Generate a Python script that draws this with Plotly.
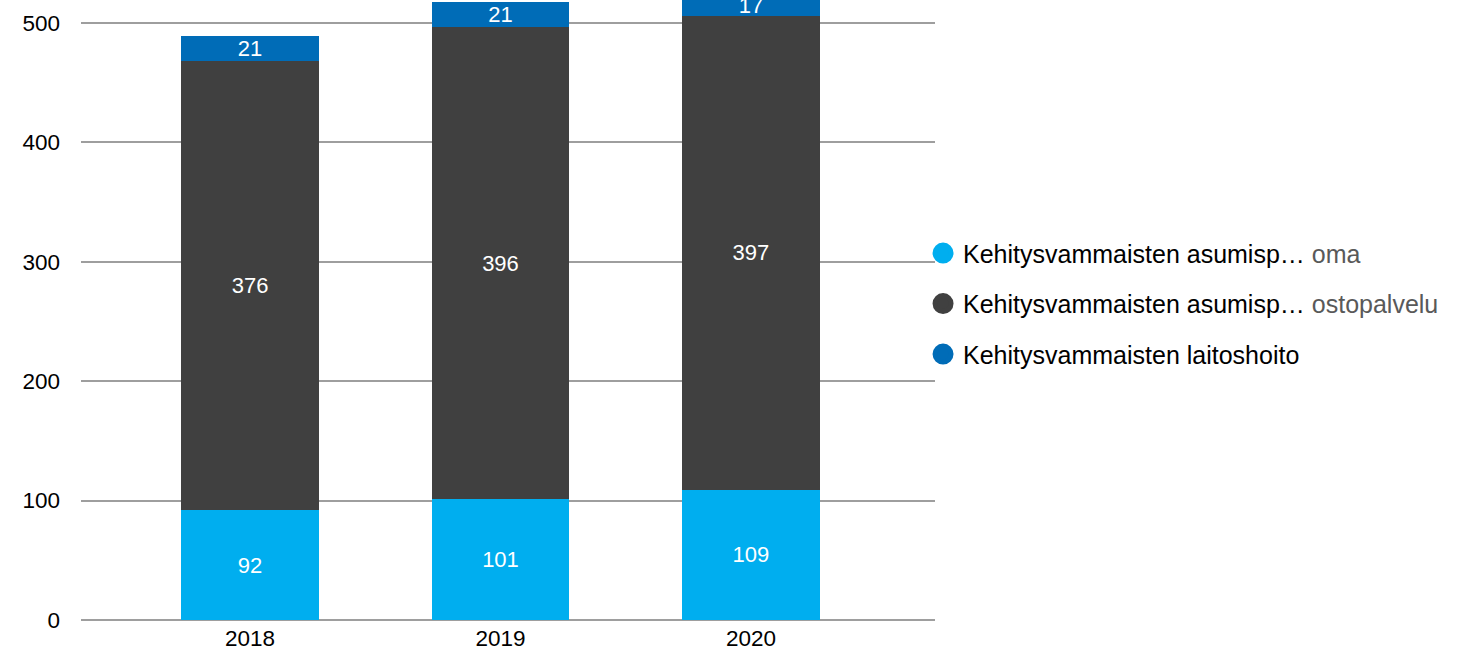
import plotly.graph_objects as go

years = ["2018", "2019", "2020"]
oma = [92, 101, 109]
ostopalvelu = [376, 396, 397]
laitoshoito = [21, 21, 17]

series_names = [
    "Kehitysvammaisten asumisp… <span style='color:#595959'>oma</span>",
    "Kehitysvammaisten asumisp… <span style='color:#595959'>ostopalvelu</span>",
    "Kehitysvammaisten laitoshoito",
]
series_values = [oma, ostopalvelu, laitoshoito]
series_colors = ["#00AEEF", "#404040", "#006CB7"]

FONT = "Liberation Sans, Arial, sans-serif"

fig = go.Figure()

for name, vals, color in zip(series_names, series_values, series_colors):
    fig.add_trace(go.Bar(
        x=years, y=vals, name=name, marker_color=color, marker_line_width=0,
        text=[str(v) for v in vals], textposition="inside", textangle=0,
        insidetextanchor="middle", constraintext="none",
        textfont=dict(color="white", size=22, family=FONT),
        width=0.55, showlegend=False, hoverinfo="x+y+name",
    ))

# circular legend markers (outline in the fill colour enlarges the legend dot)
for i, (name, color) in enumerate(zip(series_names, series_colors)):
    fig.add_trace(go.Scatter(
        x=[None], y=[None], mode="markers", name=name,
        marker=dict(color=color, size=22, symbol="circle",
                    line=dict(color=color, width=5)),
        legendgroup=f"g{i}", showlegend=True,
    ))

fig.update_layout(
    width=1470, height=658,
    barmode="stack",
    bargap=0.45,
    paper_bgcolor="white", plot_bgcolor="white",
    margin=dict(l=81, r=535, t=0, b=38),
    font=dict(family=FONT, size=22, color="#000000"),
    legend=dict(
        x=0.986, y=0.51, xanchor="left", yanchor="middle",
        traceorder="grouped", tracegroupgap=15,
        font=dict(size=25, color="#000000", family=FONT),
        itemwidth=30, bgcolor="rgba(0,0,0,0)",
    ),
    showlegend=True,
)

fig.update_xaxes(
    range=[-0.675, 2.735], showgrid=False, showline=False, ticks="",
    tickfont=dict(size=22.5, color="#000000"), ticklabelstandoff=2,
)
fig.update_yaxes(
    range=[0, 519.3], tickvals=[0, 100, 200, 300, 400, 500],
    showgrid=True, gridcolor="#9E9E9E", gridwidth=1.5,
    zeroline=True, zerolinecolor="#9E9E9E", zerolinewidth=1.5,
    showline=False, ticks="", ticklabelstandoff=20,
    tickfont=dict(size=22.5, color="#000000"),
)

fig.write_html("out.html")
